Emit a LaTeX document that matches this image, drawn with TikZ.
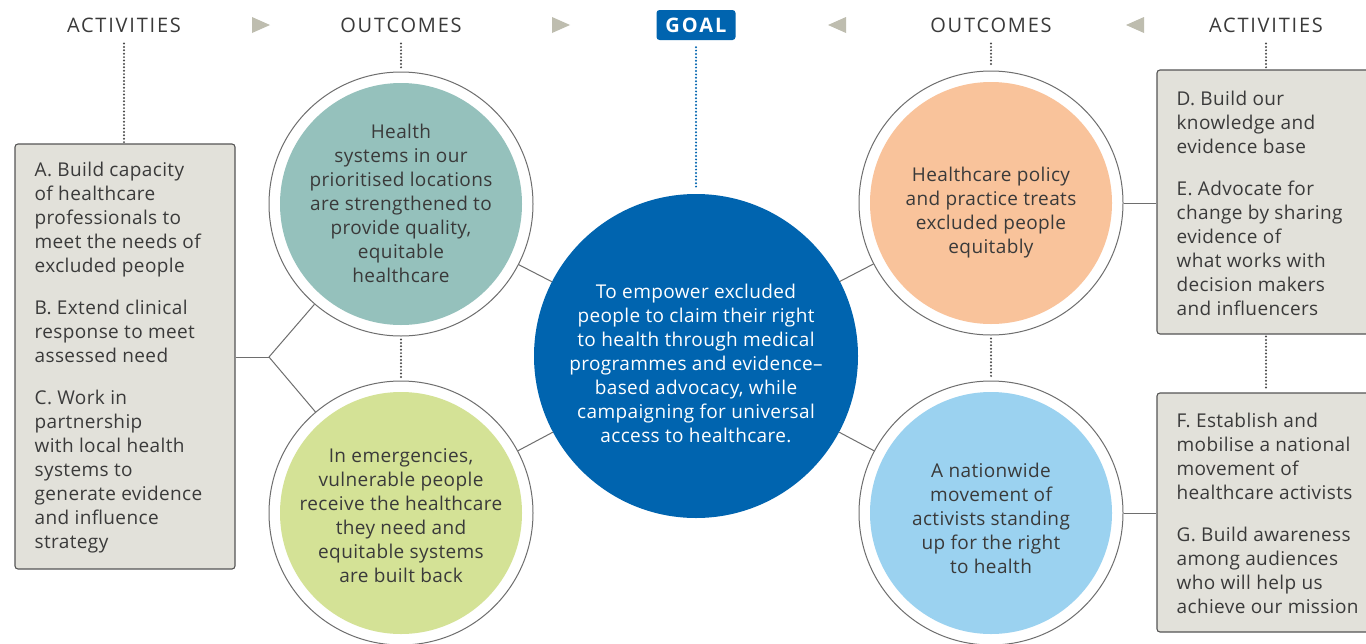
\documentclass[tikz,border=0pt]{standalone}
\usepackage{fontspec}
\setmainfont{Open Sans}
\definecolor{txtgray}{HTML}{3A3A3A}
\definecolor{ringgray}{HTML}{6E6E6E}
\definecolor{dotgray}{HTML}{4A4A4A}
\definecolor{boxfill}{HTML}{E2E1DA}
\definecolor{boxborder}{HTML}{555555}
\definecolor{tricol}{HTML}{BEBDAF}
\definecolor{goalblue}{HTML}{0064AF}
\definecolor{tealc}{HTML}{95C1BC}
\definecolor{greenc}{HTML}{D4E296}
\definecolor{orangec}{HTML}{F9C39B}
\definecolor{lbluec}{HTML}{9BD2F0}
\begin{document}
\begin{tikzpicture}[x=1pt,y=-1pt,
  txt/.style={text=txtgray, font=\fontsize{19}{24}\selectfont\addfontfeatures{LetterSpace=2}, inner sep=0pt},
  hdr/.style={text=txtgray, font=\fontsize{20}{24}\selectfont\addfontfeatures{LetterSpace=9}, inner sep=0pt},
  ring/.style={circle, draw=ringgray, line width=1pt, fill=white, minimum size=264pt, inner sep=0pt,
    path picture={\fill[#1] (path picture bounding box.center) circle[radius=121pt];}},
  actbox/.style={draw=boxborder, line width=1.1pt, fill=boxfill, rounded corners=3pt, inner sep=0pt},
  link/.style={draw=ringgray, line width=1pt},
  dots/.style={line width=2.2pt, dash pattern=on 0pt off 3.4pt, line cap=round, draw=dotgray},
  tri/.style={fill=tricol},
]
\clip (0,0) rectangle (1366,643);
\fill[white] (0,0) rectangle (1366,643);

% headers
\node[hdr] (hActL) at (124,25) {ACTIVITIES};
\node[hdr] (hOutL) at (401,25) {OUTCOMES};
\node[hdr] (hOutR) at (991,25) {OUTCOMES};
\node[hdr] (hActR) at (1266,25) {ACTIVITIES};
\node[fill=goalblue, rounded corners=3pt, minimum width=79pt, minimum height=30pt, inner sep=0pt,
  text=white, font=\fontsize{20}{24}\selectfont\bfseries\addfontfeatures{LetterSpace=10}] (goallbl) at (696,25) {GOAL};

% triangles
\fill[tri] (252,17) -- (270,25) -- (252,33) -- cycle;
\fill[tri] (552,17) -- (570,25) -- (552,33) -- cycle;
\fill[tri] (846,17) -- (828,25) -- (846,33) -- cycle;
\fill[tri] (1144,17) -- (1126,25) -- (1144,33) -- cycle;

% boxes
\node[actbox, minimum width=220pt, minimum height=425pt] (boxL) at (125,356.5) {};
\node[actbox, minimum width=223pt, minimum height=264pt] (boxDE) at (1268.5,202) {};
\node[actbox, minimum width=223pt, minimum height=239pt] (boxFG) at (1268.5,512.5) {};

\node[txt, align=left, anchor=west] (txtL) at ([xshift=20pt,yshift=-1pt]boxL.west)
  {A. Build capacity\\of healthcare\\professionals to\\meet the needs of\\excluded people\\[18pt]%
   B. Extend clinical\\response to meet\\assessed need\\[18pt]%
   C. Work in\\partnership\\with local health\\systems to\\generate evidence\\and influence\\strategy};
\node[txt, align=left, anchor=west] (txtDE) at ([xshift=20pt,yshift=-1pt]boxDE.west)
  {D. Build our\\knowledge and\\evidence base\\[18pt]%
   E. Advocate for\\change by sharing\\evidence of\\what works with\\decision makers\\and influencers};
\node[txt, align=left, anchor=west] (txtFG) at ([xshift=20pt,yshift=-1pt]boxFG.west)
  {F. Establish and\\mobilise a national\\movement of\\healthcare activists\\[18pt]%
   G. Build awareness\\among audiences\\who will help us\\achieve our mission};

% circles
\node[ring=tealc] (hs) at (401,204) {};
\node[ring=greenc] (em) at (401,513) {};
\node[ring=orangec] (hp) at (991,203) {};
\node[ring=lbluec] (nm) at (991,513) {};
\node[circle, fill=goalblue, minimum size=324pt, inner sep=0pt] (goal) at (696,356) {};

\node[txt, align=center] (hstxt) at (401,203)
  {Health\\systems in our\\prioritised locations\\are strengthened to\\provide quality,\\equitable\\healthcare};
\node[txt, align=center] (emtxt) at (401,516)
  {In emergencies,\\vulnerable people\\receive the healthcare\\they need and\\equitable systems\\are built back};
\node[txt, align=center] (hptxt) at (991,213)
  {Healthcare policy\\and practice treats\\excluded people\\equitably};
\node[txt, align=center] (nmtxt) at (991,518)
  {A nationwide\\movement of\\activists standing\\up for the right\\to health};
\node[txt, align=center, text=white] (goaltxt) at (696,363)
  {To empower excluded\\people to claim their right\\to health through medical\\programmes and evidence–\\based advocacy, while\\campaigning for universal\\access to healthcare.};

% connectors
\coordinate (jL) at (269,357);
\draw[link] (boxL.east |- jL) -- (jL);
\draw[link] (jL) -- (hs);
\draw[link] (jL) -- (em);
\draw[link] (hs) -- (goal);
\draw[link] (em) -- (goal);
\draw[link] (hp) -- (goal);
\draw[link] (nm) -- (goal);
\draw[link] (hp.east) -- (boxDE.west |- hp.east);
\draw[link] (nm.east) -- (boxFG.west |- nm.east);

% dotted lines
\draw[dots] ([yshift=-11pt]hActL.south) -- (hActL.south |- boxL.north);
\draw[dots] ([yshift=-11pt]hOutL.south) -- ([yshift=4pt]hs.north);
\draw[dots] ([yshift=-3pt]hs.south) -- ([yshift=3pt]em.north);
\draw[dots, draw=goalblue] ([yshift=-7pt]goallbl.south) -- ([yshift=4pt]goal.north);
\draw[dots] ([yshift=-11pt]hOutR.south) -- ([yshift=4pt]hp.north);
\draw[dots] ([yshift=-3pt]hp.south) -- ([yshift=3pt]nm.north);
\draw[dots] ([yshift=-11pt]hActR.south) -- (hActR.south |- boxDE.north);
\draw[dots] ([yshift=-2pt]hActR.south |- boxDE.south) -- ([yshift=2pt]hActR.south |- boxFG.north);
\end{tikzpicture}
\end{document}
